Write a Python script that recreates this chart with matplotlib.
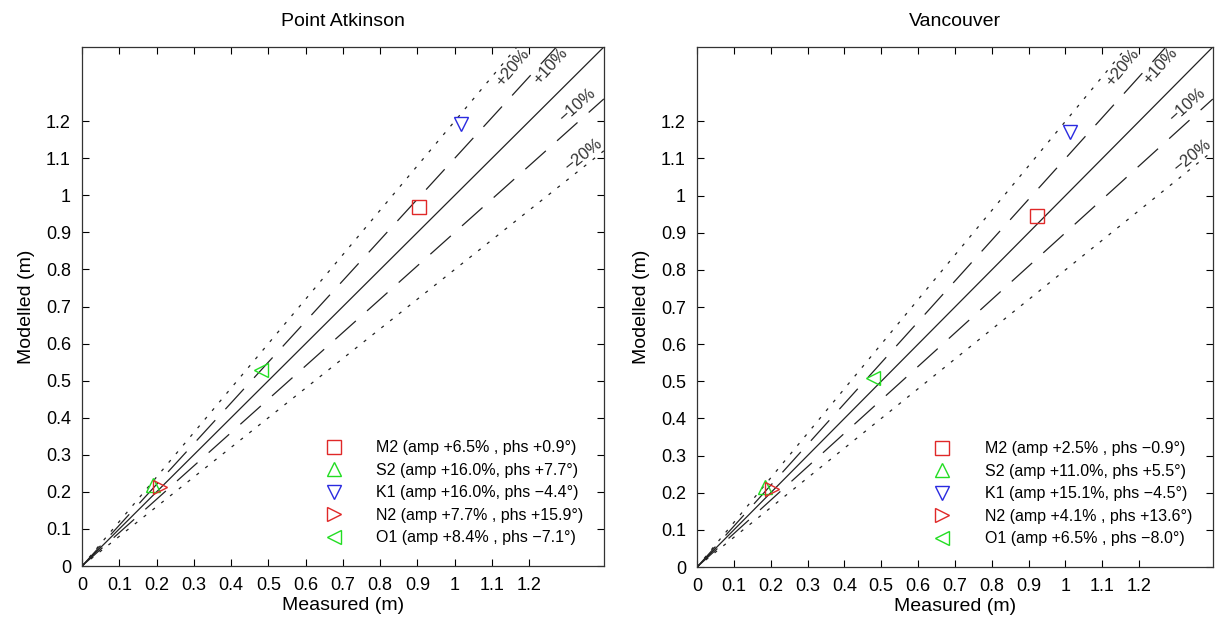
import numpy as np
import matplotlib
matplotlib.use('Agg')
from matplotlib import pyplot as plt

plt.rcParams['font.family'] = ['Liberation Sans', 'DejaVu Sans']

titles = ['Point Atkinson', 'Vancouver']
constituents = ['M2', 'S2', 'K1', 'N2', 'O1']
markers = ['s', '^', 'v', '>', '<']
colors = ['#e02828', '#22dd22', '#2a2ae0', '#e02828', '#22dd22']

measured_pa = [0.904, 0.190, 1.016, 0.209, 0.479]
modelled_pa = [0.968, 0.218, 1.191, 0.213, 0.528]
measured_va = [0.922, 0.185, 1.013, 0.204, 0.478]
modelled_va = [0.946, 0.216, 1.170, 0.210, 0.509]

labels_pa = ['M2 (amp +6.5% , phs +0.9°)',
             'S2 (amp +16.0%, phs +7.7°)',
             'K1 (amp +16.0%, phs \u22124.4°)',
             'N2 (amp +7.7% , phs +15.9°)',
             'O1 (amp +8.4% , phs \u22127.1°)']
labels_va = ['M2 (amp +2.5% , phs \u22120.9°)',
             'S2 (amp +11.0%, phs +5.5°)',
             'K1 (amp +15.1%, phs \u22124.5°)',
             'N2 (amp +4.1% , phs +13.6°)',
             'O1 (amp +6.5% , phs \u22128.0°)']

ticks = np.round(np.arange(0, 1.21, 0.1), 1)
tick_labels = ['0', '0.1', '0.2', '0.3', '0.4', '0.5', '0.6', '0.7', '0.8',
               '0.9', '1', '1.1', '1.2']

factors = [1.2, 1.1, 1.0, 0.9, 0.8]
styles = [(0, (2.5, 6.5)), (0, (22, 12)), '-', (0, (22, 12)), (0, (2.5, 6.5))]
line_labels = ['+20%', '+10%', None, '\u221210%', '\u221220%']
label_pos = [(1.155, 1.345), (1.258, 1.348), None, (1.33, 1.243), (1.345, 1.108)]

fig = plt.figure(figsize=(12.15, 6.31), dpi=100)
axes = [fig.add_axes([0.0675, 0.103, 0.4295, 0.8225]),
        fig.add_axes([0.5737, 0.1014, 0.4245, 0.8241])]

data = [(measured_pa, modelled_pa, labels_pa), (measured_va, modelled_va, labels_va)]

for ax, title, (xs, ys, labs) in zip(axes, titles, data):
    ax.set_xlim(0, 1.4)
    ax.set_ylim(0, 1.4)
    for f, ls, lab, pos in zip(factors, styles, line_labels, label_pos):
        xe = min(1.4, 1.4 / f)
        ax.plot([0, xe], [0, f * xe], color='#222222', lw=0.9, linestyle=ls, zorder=1)
        if lab is not None:
            ax.text(pos[0], pos[1], lab, rotation=np.degrees(np.arctan(f)),
                    transform_rotates_text=True, rotation_mode='anchor',
                    ha='center', va='center', fontsize=12, color='#333333')
    for x, y, m, c, lab in zip(xs, ys, markers, colors, labs):
        ax.plot(x, y, linestyle='none', marker=m, markersize=10,
                markerfacecolor='none', markeredgecolor=c, markeredgewidth=1.0,
                label=lab, zorder=3)
    ax.legend(loc='lower right', frameon=False, fontsize=11.5, handletextpad=1.9,
              labelspacing=0.47, borderaxespad=0.9, handlelength=1.5)
    ax.set_xticks(ticks)
    ax.set_xticklabels(tick_labels)
    ax.set_yticks(ticks)
    ax.set_yticklabels(tick_labels)
    ax.tick_params(direction='in', top=True, right=True, labelsize=13,
                   length=5, width=0.8, pad=8)
    for s in ax.spines.values():
        s.set_linewidth(0.9)
        s.set_color('#333333')
    ax.set_xlabel('Measured (m)', fontsize=14, labelpad=2)
    ax.set_ylabel('Modelled (m)', fontsize=14, labelpad=8)
    ax.set_title(title, fontsize=14, pad=15)

fig.savefig('out.png', dpi=100)
